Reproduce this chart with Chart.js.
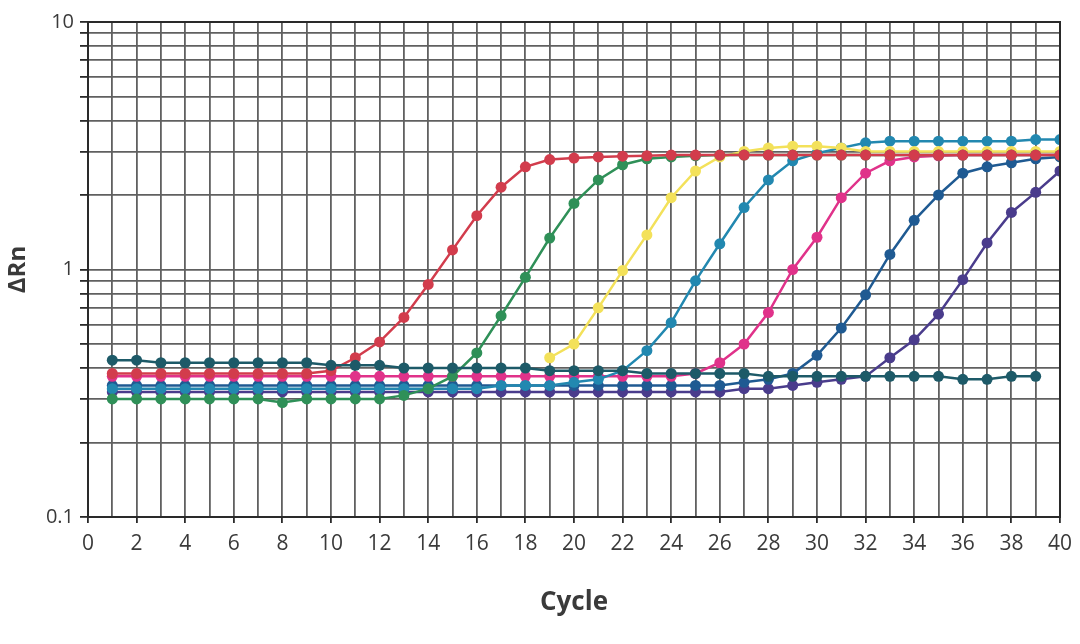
<!DOCTYPE html>
<html>
<head>
<meta charset="utf-8">
<script src="https://cdn.jsdelivr.net/npm/chart.js@4.4.0/dist/chart.umd.min.js"></script>
<style>
  html, body { margin: 0; padding: 0; background: #fff; }
  #wrap { width: 1080px; height: 644px; }
</style>
</head>
<body>
<div id="wrap"><canvas id="qpcrChart" width="1080" height="644"></canvas></div>
<script>
// cycles 1..40
const cycles = Array.from({ length: 40 }, (_, i) => i + 1);

const redCurve = [0.38, 0.38, 0.38, 0.38, 0.38, 0.38, 0.38, 0.38, 0.38, 0.39,
  0.44, 0.51, 0.64, 0.87, 1.2, 1.65, 2.15, 2.6, 2.78, 2.82,
  2.85, 2.87, 2.88, 2.9, 2.9, 2.9, 2.9, 2.9, 2.9, 2.9,
  2.9, 2.9, 2.9, 2.9, 2.9, 2.9, 2.9, 2.9, 2.9, 2.9];
const greenCurve = [0.3, 0.3, 0.3, 0.3, 0.3, 0.3, 0.3, 0.29, 0.3, 0.3,
  0.3, 0.3, 0.31, 0.33, 0.37, 0.46, 0.65, 0.93, 1.34, 1.85,
  2.3, 2.65, 2.8, 2.85, 2.88, 2.9, 2.9, 2.9, 2.9, 2.9,
  2.9, 2.9, 2.9, 2.9, 2.9, 2.9, 2.9, 2.9, 2.9, 2.9];
const yellowCurve = [null, null, null, null, null, null, null, null, null, null,
  null, null, null, null, null, null, null, null, 0.44, 0.5,
  0.7, 0.99, 1.38, 1.95, 2.5, 2.85, 3.0, 3.1, 3.15, 3.15,
  3.1, 3.0, 3.0, 3.0, 3.0, 3.0, 3.0, 3.0, 3.0, 3.0];
const blueCurve = [0.33, 0.33, 0.33, 0.33, 0.33, 0.33, 0.33, 0.33, 0.33, 0.33,
  0.33, 0.33, 0.33, 0.33, 0.33, 0.33, 0.34, 0.34, 0.34, 0.35,
  0.36, 0.39, 0.47, 0.61, 0.9, 1.27, 1.78, 2.3, 2.75, 2.95,
  3.1, 3.25, 3.3, 3.3, 3.3, 3.3, 3.3, 3.3, 3.35, 3.35];
const magentaCurve = [0.37, 0.37, 0.37, 0.37, 0.37, 0.37, 0.37, 0.37, 0.37, 0.37,
  0.37, 0.37, 0.37, 0.37, 0.37, 0.37, 0.37, 0.37, 0.37, 0.37,
  0.37, 0.37, 0.37, 0.37, 0.38, 0.42, 0.5, 0.67, 1.0, 1.35,
  1.95, 2.45, 2.75, 2.85, 2.88, 2.9, 2.9, 2.9, 2.9, 2.9];
const darkBlueCurve = [0.34, 0.34, 0.34, 0.34, 0.34, 0.34, 0.34, 0.34, 0.34, 0.34,
  0.34, 0.34, 0.34, 0.34, 0.34, 0.34, 0.34, 0.34, 0.34, 0.34,
  0.34, 0.34, 0.34, 0.34, 0.34, 0.34, 0.35, 0.36, 0.38, 0.45,
  0.58, 0.79, 1.15, 1.58, 2.0, 2.45, 2.6, 2.7, 2.8, 2.85];
const purpleCurve = [0.32, 0.32, 0.32, 0.32, 0.32, 0.32, 0.32, 0.32, 0.32, 0.32,
  0.32, 0.32, 0.32, 0.32, 0.32, 0.32, 0.32, 0.32, 0.32, 0.32,
  0.32, 0.32, 0.32, 0.32, 0.32, 0.32, 0.33, 0.33, 0.34, 0.35,
  0.36, 0.37, 0.44, 0.52, 0.66, 0.91, 1.28, 1.7, 2.05, 2.5];
const ntcCurve = [0.43, 0.43, 0.42, 0.42, 0.42, 0.42, 0.42, 0.42, 0.42, 0.41,
  0.41, 0.41, 0.4, 0.4, 0.4, 0.4, 0.4, 0.4, 0.39, 0.39,
  0.39, 0.39, 0.38, 0.38, 0.38, 0.38, 0.38, 0.37, 0.37, 0.37,
  0.37, 0.37, 0.37, 0.37, 0.37, 0.36, 0.36, 0.37, 0.37, null];

const yTicks = [0.1, 0.2, 0.3, 0.4, 0.5, 0.6, 0.7, 0.8, 0.9, 1, 2, 3, 4, 5, 6, 7, 8, 9, 10];
const yLabels = { 0.1: "0.1", 1: "1", 10: "10" };

const seriesList = [
  { name: "NTC", data: ntcCurve, color: "#1d5a68" },
  { name: "S1", data: redCurve, color: "#d23c4c" },
  { name: "S2", data: greenCurve, color: "#2f9058" },
  { name: "S3", data: yellowCurve, color: "#f3e15a" },
  { name: "S4", data: blueCurve, color: "#2288b0" },
  { name: "S5", data: magentaCurve, color: "#e0328a" },
  { name: "S6", data: darkBlueCurve, color: "#1f5a92" },
  { name: "S7", data: purpleCurve, color: "#4a3c8c" },
];

// frame round the plot area (top and right sides)
const framePlugin = {
  id: "frame",
  afterDraw(chart) {
    const { ctx, chartArea } = chart;
    ctx.save();
    ctx.strokeStyle = "#2a2a2a";
    ctx.lineWidth = 2;
    ctx.strokeRect(chartArea.left, chartArea.top, chartArea.right - chartArea.left, chartArea.bottom - chartArea.top);
    ctx.restore();
  },
};

const ctx = document.getElementById("qpcrChart");
new Chart(ctx.getContext("2d"), {
  type: "line",
  data: {
    labels: cycles,
    datasets: seriesList.map((s) => ({
      label: s.name,
      data: s.data,
      borderColor: s.color,
      backgroundColor: s.color,
      pointBackgroundColor: s.color,
      pointBorderColor: s.color,
      borderWidth: 2.5,
      pointRadius: 5.5,
      pointBorderWidth: 0,
      tension: 0,
      spanGaps: false,
    })),
  },
  options: {
    responsive: false,
    animation: false,
    layout: { padding: { top: 22, right: 18, left: 0, bottom: 22 } },
    plugins: {
      legend: { display: false },
      tooltip: { enabled: false },
    },
    scales: {
      x: {
        type: "linear",
        min: 0,
        max: 40,
        afterFit: (scale) => { scale.height = 105; },
        ticks: {
          stepSize: 1,
          autoSkip: false,
          maxRotation: 0,
          color: "#3a3a3a",
          padding: 8,
          font: { family: "Open Sans", size: 21 },
          callback: (value) => (value % 2 === 0 ? String(value) : ""),
        },
        grid: {
          color: "#606060",
          lineWidth: 1.8,
          tickLength: 6,
          tickColor: (c) => (c.tick && c.tick.value % 2 === 0 ? "#2a2a2a" : "rgba(0,0,0,0)"),
        },
        border: { color: "#2a2a2a", width: 2 },
        title: {
          display: true,
          text: "Cycle",
          color: "#3a3a3a",
          font: { family: "Open Sans", size: 26, weight: "bold" },
          padding: { top: 14 },
        },
      },
      y: {
        type: "logarithmic",
        min: 0.1,
        max: 10,
        afterFit: (scale) => { scale.width = 88; },
        afterBuildTicks: (scale) => {
          scale.ticks = yTicks.map((v) => ({ value: v }));
        },
        ticks: {
          autoSkip: false,
          color: "#3a3a3a",
          padding: 6,
          font: { family: "Open Sans", size: 20 },
          callback: (value) => yLabels[value] || "",
        },
        grid: {
          color: "#606060",
          lineWidth: 1.8,
          tickLength: 8,
          tickColor: "#2a2a2a",
        },
        border: { color: "#2a2a2a", width: 2 },
        title: {
          display: true,
          text: "ΔRn",
          color: "#3a3a3a",
          font: { family: "Open Sans", size: 24, weight: "bold" },
          padding: { bottom: 10 },
        },
      },
    },
  },
  plugins: [framePlugin],
});
</script>
</body>
</html>
